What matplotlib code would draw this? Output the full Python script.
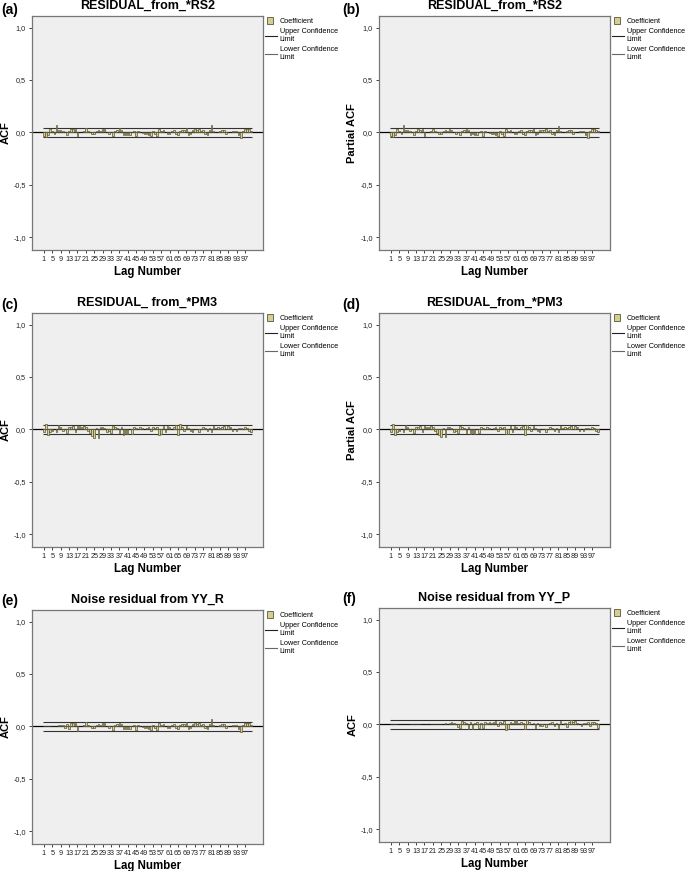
import numpy as np
import matplotlib
matplotlib.use('Agg')
import matplotlib.pyplot as plt
from matplotlib.patches import Patch, Rectangle
from matplotlib.lines import Line2D
from matplotlib.legend_handler import HandlerPatch

lags = np.arange(1, 101)
tick_lags = list(range(1, 98, 4))
conf_limit = 0.043

titles = ['RESIDUAL_from_*RS2', 'RESIDUAL_from_*RS2',
          'RESIDUAL_ from_*PM3', 'RESIDUAL_from_*PM3',
          'Noise residual from YY_R', 'Noise residual from YY_P']
ylabels = ['ACF', 'Partial ACF', 'ACF', 'Partial ACF', 'ACF', 'ACF']
panel_tags = ['(a)', '(b)', '(c)', '(d)', '(e)', '(f)']

acf_a = [-0.03, -0.04, -0.02, 0.03, 0.01, -0.01, 0.07, 0.02, 0.02, 0.01,
         0.0, -0.02, 0.01, 0.03, 0.03, 0.03, -0.03, 0.0, 0.005, 0.01,
         0.04, 0.01, 0.0, -0.01, -0.01, 0.01, 0.02, 0.01, 0.03, 0.03,
         0.0, -0.01, 0.0, -0.03, 0.01, 0.02, 0.04, 0.02, -0.02, -0.02,
         -0.02, -0.02, 0.0, 0.01, -0.03, 0.01, 0.0, -0.005, -0.01, -0.01,
         -0.02, -0.03, 0.01, -0.01, -0.03, 0.03, 0.01, 0.02, 0.0, -0.01,
         -0.01, 0.01, 0.02, -0.01, -0.02, 0.01, 0.02, 0.02, 0.04, -0.02,
         -0.01, 0.02, 0.03, 0.02, 0.03, 0.01, 0.02, -0.01, -0.02, 0.02,
         0.07, 0.01, 0.0, 0.005, 0.01, 0.02, 0.02, -0.01, 0.005, 0.0,
         0.01, 0.01, 0.01, -0.02, -0.05, 0.01, 0.03, 0.03, 0.03, 0.01]

pacf_b = [-0.03, -0.04, -0.02, 0.03, 0.01, -0.01, 0.07, 0.02, 0.02, 0.01,
          0.0, -0.02, 0.01, 0.03, 0.02, 0.03, -0.03, 0.0, 0.005, 0.01,
          0.03, 0.01, 0.0, -0.01, -0.01, 0.01, 0.02, 0.01, 0.03, 0.02,
          0.0, -0.01, 0.0, -0.02, 0.01, 0.02, 0.03, 0.02, -0.02, -0.01,
          -0.02, -0.02, 0.0, 0.01, -0.03, 0.01, 0.0, -0.005, -0.01, -0.01,
          -0.02, -0.03, 0.01, -0.01, -0.03, 0.03, 0.01, 0.02, 0.0, -0.01,
          -0.01, 0.01, 0.02, -0.01, -0.02, 0.01, 0.02, 0.02, 0.03, -0.02,
          -0.01, 0.02, 0.02, 0.02, 0.03, 0.01, 0.02, -0.01, -0.02, 0.02,
          0.06, 0.01, 0.0, 0.005, 0.01, 0.02, 0.02, -0.01, 0.005, 0.0,
          0.01, 0.01, 0.01, -0.02, -0.05, 0.01, 0.03, 0.03, 0.02, 0.01]

acf_c = [-0.02, 0.05, -0.05, -0.02, -0.01, 0.0, -0.02, 0.04, 0.02, -0.01,
         0.0, -0.03, 0.02, 0.02, 0.03, -0.02, 0.03, 0.03, 0.02, 0.03,
         0.02, -0.01, -0.03, -0.06, -0.08, 0.01, -0.08, 0.02, 0.02, 0.01,
         -0.02, -0.01, -0.03, 0.03, 0.02, 0.01, -0.03, 0.02, -0.05, -0.04,
         -0.04, 0.0, -0.04, 0.02, 0.01, 0.0, 0.02, 0.01, 0.0, 0.01,
         0.02, -0.01, 0.02, 0.01, 0.02, -0.05, -0.04, 0.03, -0.02, 0.03,
         0.02, 0.0, 0.02, 0.04, -0.05, 0.05, 0.02, -0.01, 0.03, 0.01,
         -0.01, -0.02, 0.0, 0.0, -0.02, 0.0, 0.02, 0.01, -0.01, 0.01,
         -0.02, 0.03, 0.01, 0.02, 0.01, 0.02, 0.03, 0.0, 0.03, 0.02,
         -0.01, 0.0, -0.01, 0.01, 0.01, 0.0, 0.02, 0.01, -0.01, -0.02]

pacf_d = [-0.02, 0.05, -0.05, -0.02, -0.01, 0.0, -0.02, 0.04, 0.02, -0.01,
          0.0, -0.03, 0.02, 0.02, 0.03, -0.02, 0.03, 0.02, 0.02, 0.03,
          0.02, -0.01, -0.03, -0.05, -0.07, 0.01, -0.07, 0.02, 0.02, 0.01,
          -0.02, -0.01, -0.03, 0.03, 0.02, 0.01, -0.03, 0.02, -0.04, -0.03,
          -0.04, 0.0, -0.03, 0.02, 0.01, 0.0, 0.02, 0.01, 0.0, 0.01,
          0.02, -0.01, 0.02, 0.01, 0.02, -0.04, -0.04, 0.03, -0.02, 0.03,
          0.02, 0.0, 0.02, 0.03, -0.05, 0.04, 0.02, -0.01, 0.03, 0.01,
          -0.01, -0.02, 0.0, 0.0, -0.02, 0.0, 0.02, 0.01, -0.01, 0.01,
          -0.02, 0.03, 0.01, 0.02, 0.01, 0.02, 0.03, 0.0, 0.03, 0.02,
          -0.01, 0.0, -0.01, 0.01, 0.01, 0.0, 0.02, 0.01, -0.01, -0.02]

acf_e = [0.0, 0.0, 0.0, 0.0, 0.0, 0.0, 0.0, 0.01, 0.015, 0.01,
         -0.01, 0.02, -0.02, 0.03, 0.03, 0.03, -0.04, 0.0, 0.005, 0.01,
         0.04, 0.01, 0.0, -0.01, -0.01, 0.01, 0.02, 0.01, 0.03, 0.03,
         0.0, -0.01, 0.0, -0.03, 0.01, 0.02, 0.03, 0.02, -0.02, -0.02,
         -0.02, -0.02, 0.0, 0.01, -0.03, 0.01, 0.0, -0.005, -0.01, -0.01,
         -0.02, -0.03, 0.01, -0.01, -0.03, 0.03, 0.01, 0.02, 0.0, -0.01,
         -0.01, 0.01, 0.02, -0.01, -0.02, 0.01, 0.02, 0.02, 0.04, -0.02,
         -0.01, 0.02, 0.03, 0.02, 0.03, 0.01, 0.02, -0.01, -0.02, 0.02,
         0.07, 0.01, 0.0, 0.005, 0.01, 0.02, 0.02, -0.01, 0.005, 0.0,
         0.01, 0.01, 0.01, -0.02, -0.05, 0.01, 0.03, 0.03, 0.03, 0.01]

acf_f = [0.0, 0.0, 0.0, 0.0, 0.0, 0.0, 0.0, 0.0, 0.0, 0.005,
         0.0, 0.005, 0.0, 0.005, 0.0, 0.0, 0.005, 0.0, 0.0, 0.005,
         0.0, 0.0, 0.005, 0.0, 0.0, 0.005, 0.01, 0.0, 0.01, 0.02,
         0.01, 0.0, -0.02, -0.03, 0.03, 0.02, 0.01, -0.04, 0.02, -0.04,
         0.01, 0.02, -0.03, 0.01, -0.03, 0.02, 0.01, 0.02, 0.01, 0.02,
         0.03, -0.01, 0.02, 0.01, 0.03, -0.05, -0.04, 0.02, 0.01, 0.04,
         0.04, 0.01, 0.02, 0.01, -0.04, 0.04, 0.02, 0.0, 0.01, -0.03,
         0.01, -0.01, -0.01, 0.0, -0.02, 0.0, 0.01, 0.02, -0.01, 0.01,
         -0.03, 0.03, 0.0, 0.01, -0.02, 0.02, 0.04, 0.02, 0.03, 0.01,
         0.0, -0.01, 0.01, 0.01, 0.02, -0.01, 0.02, 0.02, 0.01, -0.03]

series = [acf_a, pacf_b, acf_c, pacf_d, acf_e, acf_f]

bar_fill = '#d6cc96'
bar_edge = '#5b5632'
panel_bg = '#efefef'


def square_swatch(legend, orig_handle, xdescent, ydescent, width, height, fontsize):
    # small square like the SPSS legend key
    s = height * 1.25
    return Rectangle((-xdescent + 1.0, -ydescent + (height - s) / 2), s, s)


W, H = 685, 871
fig = plt.figure(figsize=(W / 100, H / 100), dpi=100)
plt.rcParams['font.family'] = ['Liberation Sans', 'DejaVu Sans']

# pixel boxes (left, top) per panel; size common
lefts = [32, 379, 32, 379, 32, 379]
tops = [16, 16, 313, 313, 610, 608]
aw, ah = 231, 234
tag_xy = [(1, 10), (342, 10), (1, 305), (342, 305), (1, 601), (342, 599)]

for i, vals in enumerate(series):
    ax = fig.add_axes([lefts[i] / W, 1 - (tops[i] + ah) / H, aw / W, ah / H])
    ax.set_facecolor(panel_bg)
    ax.bar(lags, vals, width=0.75, color=bar_fill, edgecolor=bar_edge,
           linewidth=0.5, zorder=3)
    ax.axhline(0, color='black', linewidth=0.9, zorder=2)
    ax.hlines([conf_limit, -conf_limit], lags[0] - 0.5, lags[-1] + 0.5,
              colors='#333333', linewidth=0.8, zorder=2)
    ax.set_xlim(-4.7, 105.6)
    ax.set_ylim(-1.12, 1.11)
    ax.set_xticks(tick_lags)
    ax.set_xticklabels([str(t) for t in tick_lags], fontsize=5.2)
    yt = [-1.0, -0.5, 0.0, 0.5, 1.0]
    ax.set_yticks(yt)
    ax.set_yticklabels([f'{v:.1f}'.replace('.', ',') for v in yt], fontsize=5.2)
    ax.tick_params(axis='both', length=2.5, width=0.6, pad=2, colors='#222222')
    ax.tick_params(axis='y', pad=2)
    for sp in ax.spines.values():
        sp.set_color('#777777')
        sp.set_linewidth(0.9)
    ax.set_title(titles[i], fontsize=9, fontweight='bold', pad=5)
    ax.set_xlabel('Lag Number', fontsize=8.3, fontweight='bold', labelpad=2)
    ax.set_ylabel(ylabels[i], fontsize=8, fontweight='bold', labelpad=2)

    handles = [Patch(facecolor=bar_fill, edgecolor=bar_edge, linewidth=0.6),
               Line2D([], [], color='#222222', linewidth=0.8),
               Line2D([], [], color='#666666', linewidth=0.8)]
    ax.legend(handles, ['Coefficient', 'Upper Confidence\nLimit',
                        'Lower Confidence\nLimit'],
              loc='upper left', bbox_to_anchor=(1.0, 1.0), frameon=False,
              fontsize=5.2, handlelength=1.6, handleheight=0.8,
              handletextpad=0.4, labelspacing=0.4, borderaxespad=0.0,
              borderpad=0.3,
              handler_map={Patch: HandlerPatch(patch_func=square_swatch)})

    fig.text(tag_xy[i][0] / W, 1 - tag_xy[i][1] / H, panel_tags[i],
             fontsize=10, fontweight='bold', va='center', ha='left')

fig.savefig('out.png', dpi=100)
